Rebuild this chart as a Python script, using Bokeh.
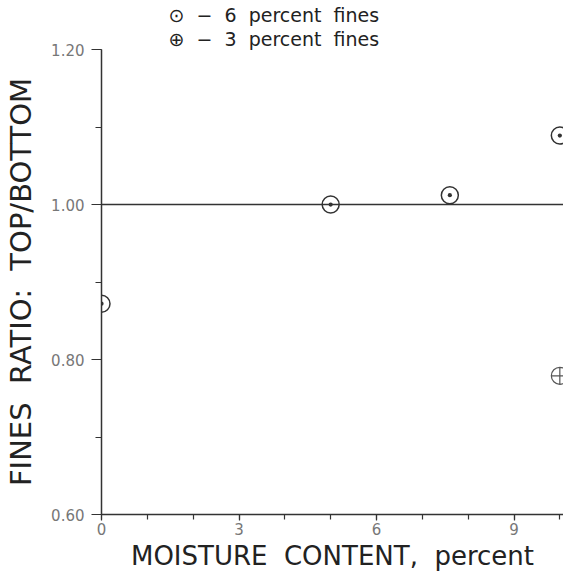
from bokeh.plotting import figure
from bokeh.models import Range1d, FixedTicker, Span, Title, CustomJSTickFormatter
from bokeh.embed import file_html
from bokeh.resources import INLINE

# data
moisture_6 = [0.0, 5.0, 7.6, 10.0]
ratio_6 = [0.872, 1.000, 1.012, 1.089]
moisture_3 = [10.0]
ratio_3 = [0.779]
x_ticks = [0, 3, 6, 9]
y_ticks = [0.60, 0.80, 1.00, 1.20]
reference_ratio = 1.0
legend_lines = ["\u2299  \u2212  6  percent  fines", "\u2295  \u2212  3  percent  fines"]

FONT = "DejaVu Sans"
INK = "#333333"
SP = "\u00a0 "

p = figure(width=563, height=576, output_backend="svg", toolbar_location=None, title=None,
           x_range=Range1d(0, 10.08), y_range=Range1d(0.60, 1.20),
           min_border_left=101, min_border_right=0, min_border_top=49, min_border_bottom=62)
p.outline_line_color = None
p.grid.visible = False
p.background_fill_color = "white"

# axes
p.xaxis.ticker = FixedTicker(ticks=x_ticks, minor_ticks=list(range(0, 11)))
p.yaxis.ticker = FixedTicker(ticks=y_ticks, minor_ticks=[0.6, 0.7, 0.8, 0.9, 1.0, 1.1, 1.2])
p.yaxis.formatter = CustomJSTickFormatter(code="return tick.toFixed(2);")

for ax in (p.xaxis, p.yaxis):
    ax.axis_line_color = INK
    ax.axis_line_width = 1.5
    ax.major_tick_line_color = INK
    ax.minor_tick_line_color = INK
    ax.major_tick_line_width = 1.2
    ax.minor_tick_line_width = 1.2
    ax.major_label_text_font = FONT
    ax.major_label_text_font_size = "15px"
    ax.major_label_text_color = "#777777"
    ax.axis_label_text_font = FONT
    ax.axis_label_text_font_style = "normal"
    ax.axis_label_text_color = "#222222"

p.xaxis.axis_label = "MOISTURE" + SP + "CONTENT," + SP + "percent"
p.xaxis.axis_label_text_font_size = "26px"
p.xaxis.major_tick_in = 0
p.xaxis.major_tick_out = 6
p.xaxis.minor_tick_in = 0
p.xaxis.minor_tick_out = 5
p.xaxis.major_label_standoff = 2
p.xaxis.axis_label_standoff = 3

p.yaxis.axis_label = "FINES" + SP + "RATIO:" + SP + "TOP/BOTTOM"
p.yaxis.axis_label_text_font_size = "29px"
p.yaxis.major_tick_in = 0
p.yaxis.major_tick_out = 10
p.yaxis.minor_tick_in = 0
p.yaxis.minor_tick_out = 6
p.yaxis.major_label_standoff = 7
p.yaxis.axis_label_standoff = 10

p.add_layout(Span(location=reference_ratio, dimension="width", line_color=INK, line_width=1.5))

p.scatter(moisture_6, ratio_6, marker="circle_dot", size=17, line_color=INK,
          line_width=1.5, fill_color="white")
p.scatter(moisture_3, ratio_3, marker="circle_cross", size=17, line_color="#555555",
          line_width=1.2, fill_color="white")

# legend as two title lines above the frame
for txt in reversed(legend_lines):
    p.add_layout(Title(text=txt.replace("  ", SP), align="left", offset=67, standoff=0,
                       text_font=FONT, text_font_size="19px", text_font_style="normal",
                       text_color="#222222"), "above")

open("out.html", "w").write(file_html(p, INLINE))
